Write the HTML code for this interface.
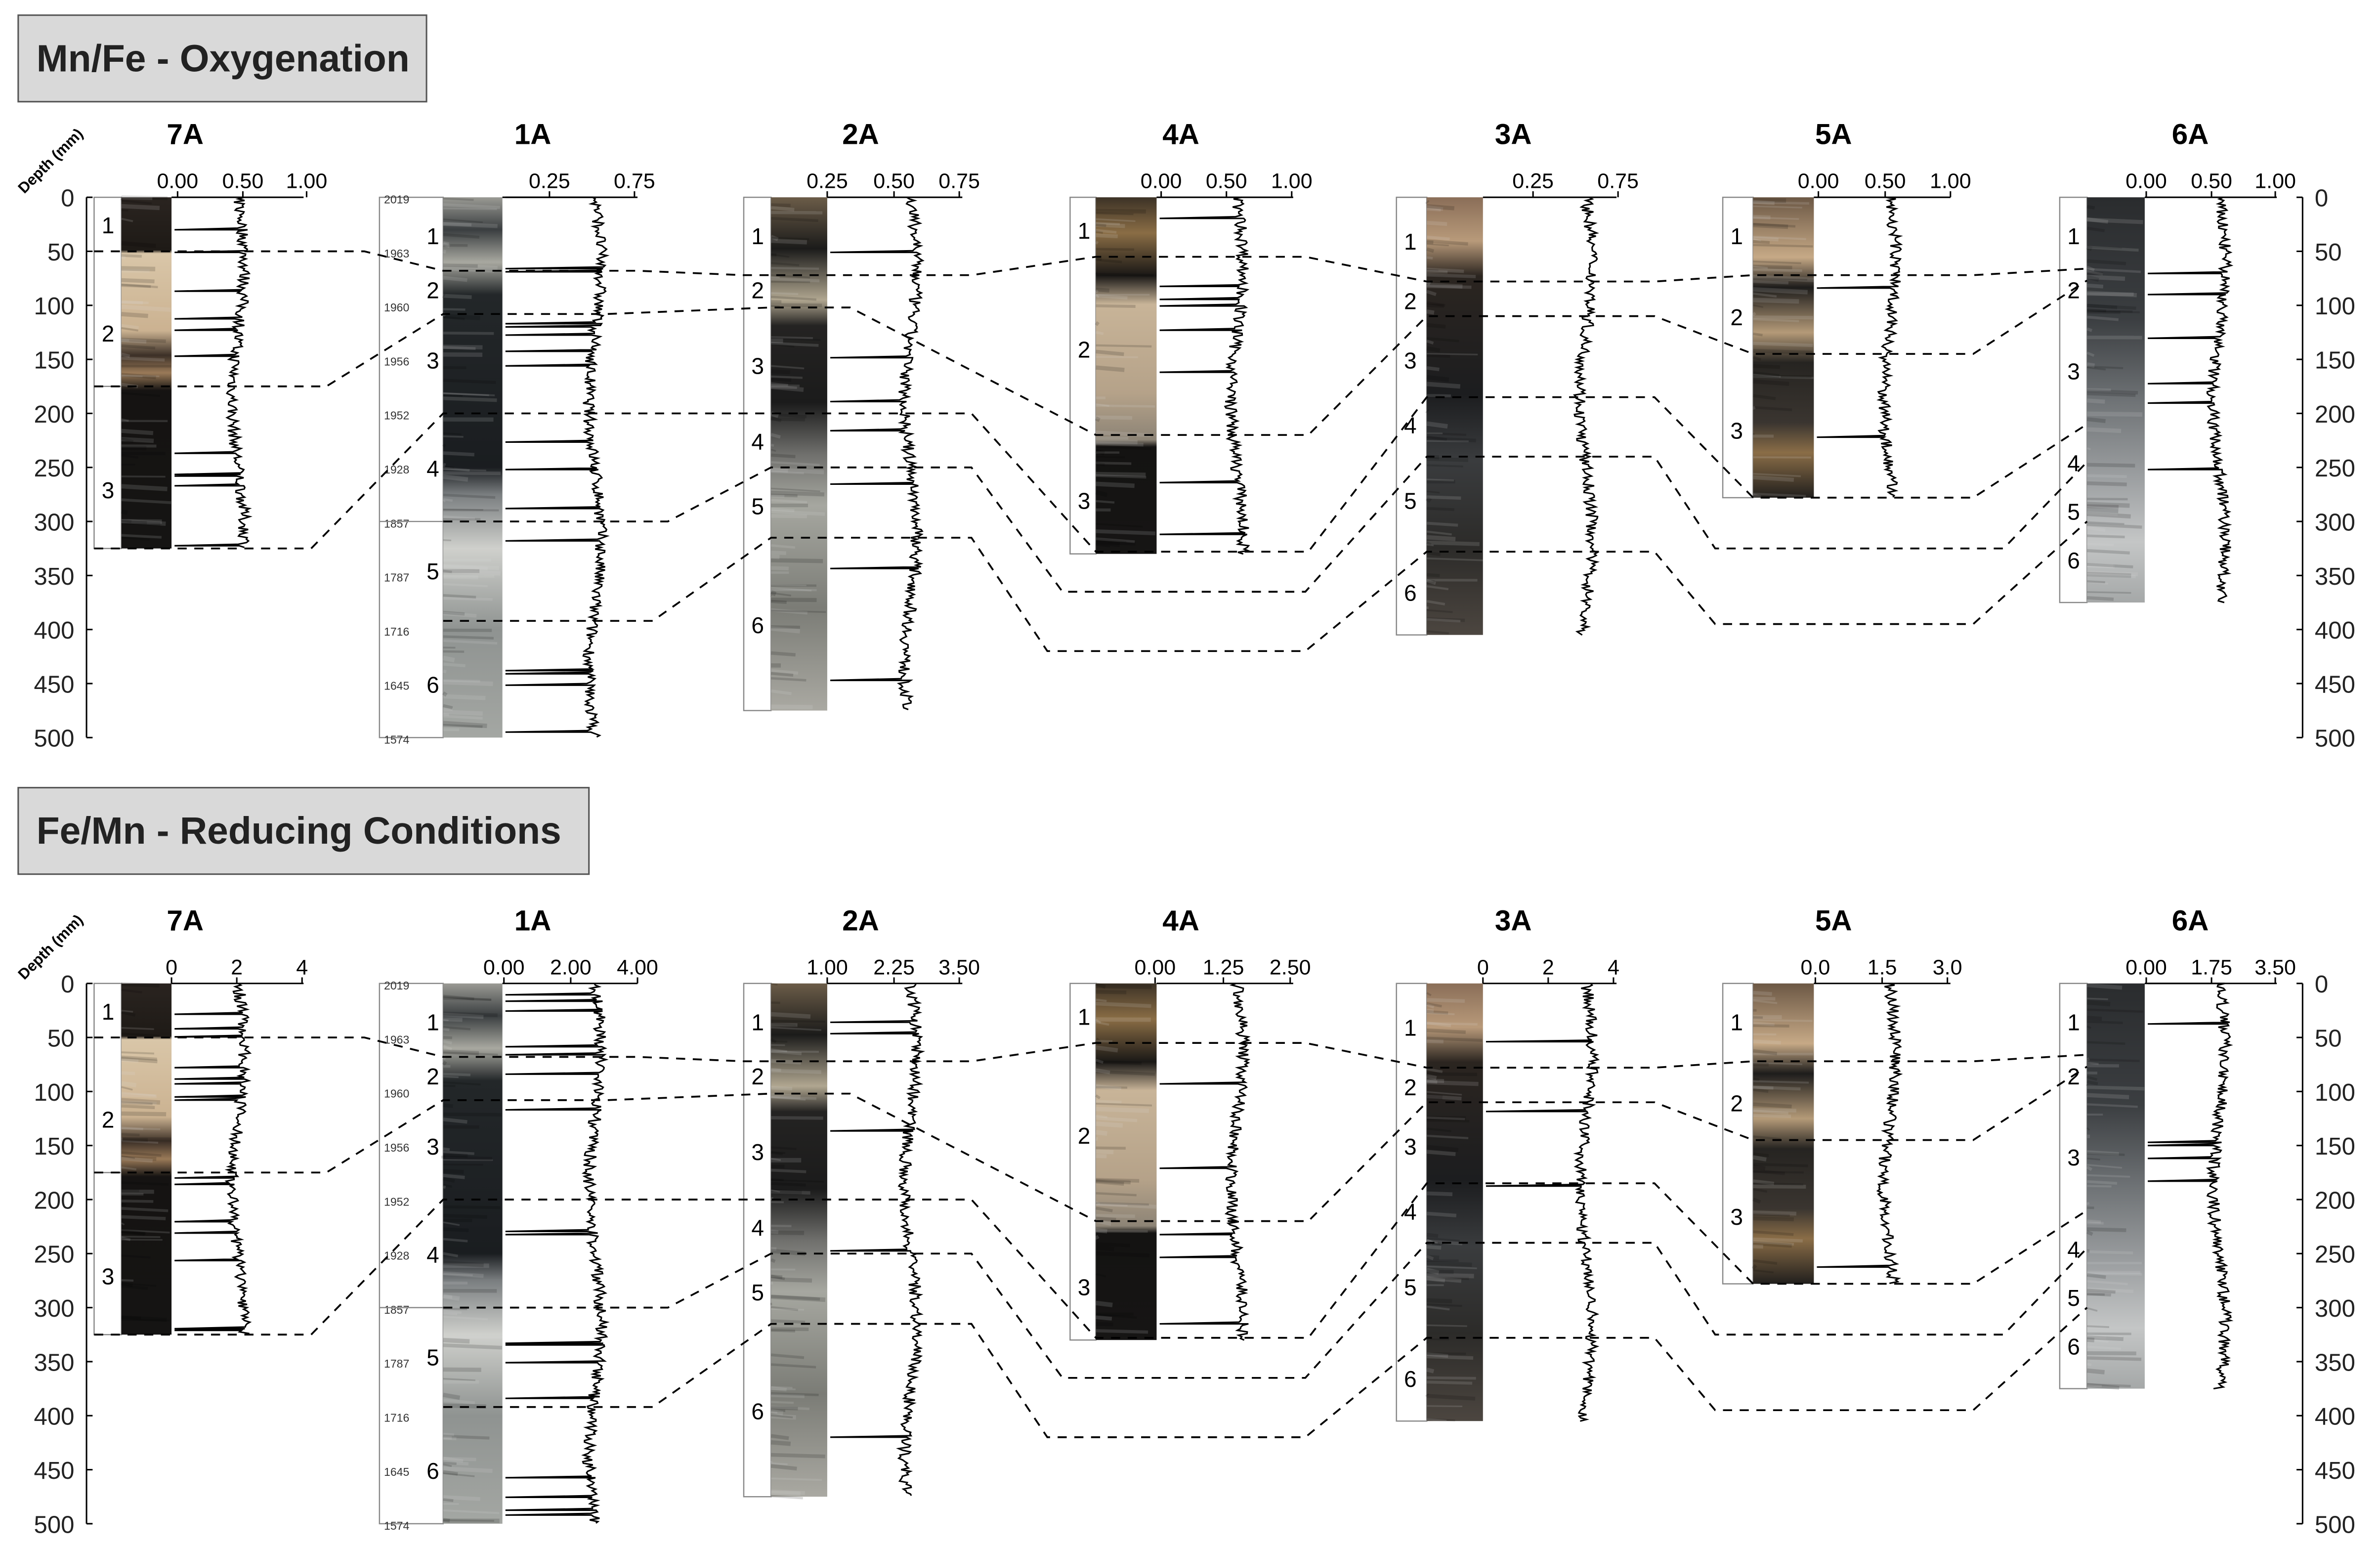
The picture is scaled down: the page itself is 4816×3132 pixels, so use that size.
<!DOCTYPE html>
<html><head><meta charset="utf-8"><style>
html,body{margin:0;padding:0;background:#fff;}
svg{display:block;font-family:"Liberation Sans",Arial,sans-serif;}
</style></head><body>
<svg id="s" xmlns="http://www.w3.org/2000/svg" width="4816" height="3132" viewBox="0 0 1568 1020" preserveAspectRatio="none">
<defs>
<linearGradient id="g7" x1="0" y1="0" x2="0" y2="1">
<stop offset="0" stop-color="#2a2420"/><stop offset="0.15" stop-color="#1e1a16"/><stop offset="0.16" stop-color="#d9c6a8"/><stop offset="0.38" stop-color="#cbb291"/><stop offset="0.45" stop-color="#3c3027"/><stop offset="0.5" stop-color="#9a7a58"/><stop offset="0.55" stop-color="#151312"/><stop offset="1" stop-color="#151413"/></linearGradient>
<linearGradient id="g1" x1="0" y1="0" x2="0" y2="1">
<stop offset="0" stop-color="#9a9a94"/><stop offset="0.06" stop-color="#3a3e40"/><stop offset="0.12" stop-color="#a8a8a0"/><stop offset="0.18" stop-color="#232729"/><stop offset="0.5" stop-color="#1a1d20"/><stop offset="0.55" stop-color="#7a7e80"/><stop offset="0.65" stop-color="#cfd0cc"/><stop offset="0.8" stop-color="#8f9391"/><stop offset="1" stop-color="#a4a7a3"/></linearGradient>
<linearGradient id="g2" x1="0" y1="0" x2="0" y2="1">
<stop offset="0" stop-color="#6b5c48"/><stop offset="0.1" stop-color="#1b1b1a"/><stop offset="0.2" stop-color="#b0a690"/><stop offset="0.25" stop-color="#242322"/><stop offset="0.4" stop-color="#1b1b1b"/><stop offset="0.5" stop-color="#6f6f6c"/><stop offset="0.6" stop-color="#a6a7a0"/><stop offset="0.8" stop-color="#7b7c76"/><stop offset="1" stop-color="#aaa9a2"/></linearGradient>
<linearGradient id="g4" x1="0" y1="0" x2="0" y2="1">
<stop offset="0" stop-color="#3c3226"/><stop offset="0.1" stop-color="#8a6d45"/><stop offset="0.22" stop-color="#1a1816"/><stop offset="0.3" stop-color="#c8b498"/><stop offset="0.55" stop-color="#b5a289"/><stop offset="0.68" stop-color="#8d8476"/><stop offset="0.7" stop-color="#141312"/><stop offset="1" stop-color="#161514"/></linearGradient>
<linearGradient id="g3" x1="0" y1="0" x2="0" y2="1">
<stop offset="0" stop-color="#8a6e58"/><stop offset="0.1" stop-color="#b89a7a"/><stop offset="0.18" stop-color="#2b2520"/><stop offset="0.45" stop-color="#1c1d1f"/><stop offset="0.6" stop-color="#3a3c3e"/><stop offset="0.8" stop-color="#2c2b29"/><stop offset="1" stop-color="#4c4640"/></linearGradient>
<linearGradient id="g5" x1="0" y1="0" x2="0" y2="1">
<stop offset="0" stop-color="#6c5845"/><stop offset="0.2" stop-color="#c6a986"/><stop offset="0.3" stop-color="#1d1c1b"/><stop offset="0.45" stop-color="#b49a78"/><stop offset="0.55" stop-color="#262421"/><stop offset="0.75" stop-color="#3a3530"/><stop offset="0.85" stop-color="#8a6d47"/><stop offset="1" stop-color="#211f1d"/></linearGradient>
<linearGradient id="g6" x1="0" y1="0" x2="0" y2="1">
<stop offset="0" stop-color="#2a2c2e"/><stop offset="0.3" stop-color="#3b3e41"/><stop offset="0.5" stop-color="#6e7275"/><stop offset="0.7" stop-color="#9ea1a3"/><stop offset="0.85" stop-color="#c4c6c6"/><stop offset="1" stop-color="#a5a8a8"/></linearGradient>
</defs>
<g id="root"></g>
</svg>
<script>
var NS="http://www.w3.org/2000/svg",root=document.getElementById("root");
function el(t,a,txt){var e=document.createElementNS(NS,t);for(var k in a)e.setAttribute(k,a[k]);if(txt!==undefined)e.textContent=txt;root.appendChild(e);return e;}
var seed=7;function rnd(){seed=(seed*16807)%2147483647;return seed/2147483647;}
var K=0.712;
function panel(Y0,title,tw,ty,labels){
 el("rect",{x:12,y:ty,width:tw,height:57,fill:"#d9d9d9",stroke:"#555","stroke-width":1});
 el("text",{x:24,y:ty+37,"font-size":25,"font-weight":"bold",fill:"#222"},title);
 el("text",{x:0,y:0,"font-size":10,"font-weight":"bold",transform:"translate(16,"+(Y0-2)+") rotate(-45)"},"Depth (mm)");
 [[57,-1],[1517,1]].forEach(function(a){
  var x=a[0];el("line",{x1:x,y1:Y0,x2:x,y2:Y0+500*K,stroke:"#000","stroke-width":1});
  for(var d=0;d<=500;d+=50){var y=Y0+d*K;
   el("line",{x1:x,y1:y,x2:x-a[1]*4,y2:y,stroke:"#000"});
   el("text",{x:a[1]<0?x-8:x+8,y:y+6,"font-size":16,"text-anchor":a[1]<0?"end":"start",fill:"#222"},d);}
 });
 labels.forEach(function(c){
  el("text",{x:c.tx,y:Y0-35,"font-size":19,"font-weight":"bold","text-anchor":"middle"},c.n);
  el("rect",{x:c.bx,y:Y0,width:c.px-c.bx,height:c.len*K,fill:"#fff",stroke:"#888","stroke-width":0.8});
  el("rect",{x:c.px,y:Y0,width:c.pw,height:c.len*K,fill:"url(#"+c.g+")"});
  for(var i=0;i<c.len/6;i++){var yy=Y0+rnd()*c.len*K;el("line",{x1:c.px,y1:yy,x2:c.px+c.pw*rnd(),y2:yy+rnd()*2,stroke:rnd()<0.5?"#000":"#ddd","stroke-opacity":0.15,"stroke-width":1+rnd()*2});}
  var ax=c.px+c.pw;
  el("line",{x1:ax,y1:Y0,x2:c.ae,y2:Y0,stroke:"#000"});
  c.ticks.forEach(function(t){el("line",{x1:t[0],y1:Y0,x2:t[0],y2:Y0-4,stroke:"#000"});el("text",{x:t[0],y:Y0-6,"font-size":14,"text-anchor":"middle"},t[1]);});
  var pts=[],base=c.base;
  for(var d=0;d<=c.len;d+=1.5){var x=base+(rnd()-0.5)*8;
   if(rnd()<c.sp){pts.push([ax+2,Y0+d*K]);}
   x+=Math.sin(d/40)*4;pts.push([x,Y0+d*K]);}
  el("polyline",{points:pts.map(function(p){return p[0].toFixed(1)+","+p[1].toFixed(1)}).join(" "),fill:"none",stroke:"#000","stroke-width":1});
  c.u.forEach(function(u){el("text",{x:(c.ux||c.bx+5),y:Y0+u[1]*K+6,"font-size":15},u[0]);});
  if(c.dates){var ds=[2019,1963,1960,1956,1952,1928,1857,1787,1716,1645,1574];ds.forEach(function(v,i){el("text",{x:c.bx+3,y:Y0+4+i*50*K,"font-size":7.5,fill:"#333"},v);});}
  (c.bd||[]).forEach(function(d){el("line",{x1:c.bx,y1:Y0+d*K,x2:c.px,y2:Y0+d*K,stroke:"#888","stroke-width":0.8});});
 });
 var L=[
 [[62,50],[240,50],[292,68],[420,68],[490,72],[640,72],[722,55],[860,55],[940,78],[1090,78],[1155,72],[1300,72],[1375,66]],
 [[62,175],[215,175],[292,108],[400,108],[508,102],[560,102],[722,220],[862,220],[940,110],[1090,110],[1155,145],[1300,145],[1375,77]],
 [[62,325],[205,325],[292,200],[640,200],[722,328],[862,328],[940,185],[1090,185],[1155,278],[1300,278],[1375,210]],
 [[292,300],[440,300],[508,250],[640,250],[700,365],[860,365],[940,240],[1090,240],[1130,325],[1320,325],[1375,245]],
 [[292,392],[430,392],[508,315],[640,315],[690,420],[860,420],[940,328],[1090,328],[1130,395],[1300,395],[1375,300]]];
 L.forEach(function(l){el("polyline",{points:l.map(function(p){return p[0]+","+(Y0+p[1]*K).toFixed(1)}).join(" "),fill:"none",stroke:"#000","stroke-width":1.2,"stroke-dasharray":"6,5"});});
}
function cores(top){
 return [
 {n:"7A",tx:122,bx:62,px:80,pw:33,len:325,g:"g7",ae:200,base:157,sp:0.06,ticks:top?[[117,"0.00"],[160,"0.50"],[202,"1.00"]]:[[113,"0"],[156,"2"],[199,"4"]],u:[["1",25],["2",125],["3",270]],bd:[175]},
 {n:"1A",tx:351,bx:250,px:292,pw:39,len:500,g:"g1",ae:420,base:392,sp:0.04,ticks:top?[[362,"0.25"],[418,"0.75"]]:[[332,"0.00"],[376,"2.00"],[420,"4.00"]],u:[["1",35],["2",85],["3",150],["4",250],["5",345],["6",450]],ux:281,dates:1,bd:[300]},
 {n:"2A",tx:567,bx:490,px:508,pw:37,len:475,g:"g2",ae:634,base:600,sp:0.03,ticks:top?[[545,"0.25"],[589,"0.50"],[632,"0.75"]]:[[545,"1.00"],[589,"2.25"],[632,"3.50"]],u:[["1",35],["2",85],["3",155],["4",225],["5",285],["6",395]],bd:[]},
 {n:"4A",tx:778,bx:705,px:722,pw:40,len:330,g:"g4",ae:852,base:815,sp:0.03,ticks:top?[[765,"0.00"],[808,"0.50"],[851,"1.00"]]:[[761,"0.00"],[806,"1.25"],[850,"2.50"]],u:[["1",30],["2",140],["3",280]],bd:[]},
 {n:"3A",tx:997,bx:920,px:940,pw:37,len:405,g:"g3",ae:1065,base:1045,sp:0.01,ticks:top?[[1010,"0.25"],[1066,"0.75"]]:[[977,"0"],[1020,"2"],[1063,"4"]],u:[["1",40],["2",95],["3",150],["4",210],["5",280],["6",365]],bd:[]},
 {n:"5A",tx:1208,bx:1135,px:1155,pw:40,len:278,g:"g5",ae:1285,base:1245,sp:0.01,ticks:top?[[1198,"0.00"],[1242,"0.50"],[1285,"1.00"]]:[[1196,"0.0"],[1240,"1.5"],[1283,"3.0"]],u:[["1",35],["2",110],["3",215]],bd:[]},
 {n:"6A",tx:1443,bx:1357,px:1375,pw:38,len:375,g:"g6",ae:1500,base:1462,sp:0.02,ticks:top?[[1414,"0.00"],[1457,"0.50"],[1499,"1.00"]]:[[1414,"0.00"],[1457,"1.75"],[1499,"3.50"]],u:[["1",35],["2",85],["3",160],["4",245],["5",290],["6",335]],ux:1362,bd:[]}];
}
panel(130,"Mn/Fe - Oxygenation",269,10,cores(true));
panel(648,"Fe/Mn - Reducing Conditions",376,519,cores(false));
</script>
</body></html>
